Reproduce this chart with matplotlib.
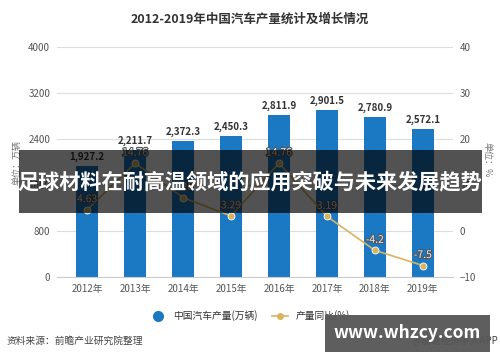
import matplotlib
matplotlib.use("Agg")
import matplotlib.pyplot as plt
import matplotlib.patheffects as pe
from matplotlib.patches import Rectangle
from matplotlib.lines import Line2D

plt.rcParams['font.family'] = ['Noto Sans CJK SC', 'DejaVu Sans']

years = ["2012年", "2013年", "2014年", "2015年", "2016年", "2017年", "2018年", "2019年"]
output = [1927.2, 2211.7, 2372.3, 2450.3, 2811.9, 2901.5, 2780.9, 2572.1]
growth = [4.63, 14.76, 7.26, 3.29, 14.76, 3.19, -4.2, -7.5]
growth_labels = ["4.63", "14.76", "7.26", "3.29", "14.76", "3.19", "-4.2", "-7.5"]
left_ticks = [0, 800, 1600, 2400, 3200, 4000]
right_ticks = [-10, 0, 10, 20, 30, 40]

bar_color = "#1b79c4"
line_color = "#d8b45e"
grid_color = "#dddddd"
tick_color = "#555555"

fig = plt.figure(figsize=(5, 3.62), dpi=100)
ax = fig.add_axes([0.114, 0.2348, 0.792, 0.635])
ax2 = ax.twinx()

x = list(range(len(years)))
ax.bar(x, output, width=0.46, color=bar_color, zorder=2)
for xi, v in zip(x, output):
    ax.text(xi, v + 70, f"{v:,.1f}", ha="center", va="bottom", fontsize=7,
            fontweight="bold", color="#333333", zorder=5)

ax.set_ylim(0, 4000)
ax.set_yticks(left_ticks)
ax.set_xlim(-0.63, 7.63)
ax.set_xticks(x)
ax.set_xticklabels(years)
ax.grid(axis="y", color=grid_color, linewidth=0.8, zorder=0)
ax.tick_params(axis="both", length=0, labelsize=7, colors=tick_color, pad=5)
for s in ax.spines.values():
    s.set_visible(False)
ax.spines["bottom"].set_visible(True)
ax.spines["bottom"].set_color("#cccccc")

ax2.plot(x, growth, color=line_color, linewidth=1.2, marker="o", markersize=5,
         markerfacecolor=line_color, markeredgecolor="white", markeredgewidth=0.6, zorder=3)
for xi, v, lab in zip(x, growth, growth_labels):
    ax2.text(xi, v + 1.2, lab, ha="center", va="bottom", fontsize=7.5, color="#e8f2fb",
             path_effects=[pe.withStroke(linewidth=1.6, foreground="#555555")], zorder=5)
ax2.set_ylim(-10, 40)
ax2.set_yticks(right_ticks)
ax2.tick_params(axis="y", length=0, labelsize=7, colors=tick_color, pad=5)
for s in ax2.spines.values():
    s.set_visible(False)

fig.text(0.5, 0.948, "2012-2019年中国汽车产量统计及增长情况", ha="center", va="center",
         fontsize=9, fontweight="bold", color="#333333")
fig.text(0.034, 0.55, "单位：万辆", rotation=90, ha="center", va="center", fontsize=6.5, color="#777777")
fig.text(0.974, 0.56, "单位：%", rotation=270, ha="center", va="center", fontsize=6.5, color="#777777")

handles = [
    Line2D([], [], linestyle="none", marker="o", markersize=7, color=bar_color),
    Line2D([], [], color=line_color, marker="o", markersize=4, linewidth=1.2),
]
fig.legend(handles, ["中国汽车产量(万辆)", "产量同比(%)"], loc="center", bbox_to_anchor=(0.5, 0.128),
           ncol=2, frameon=False, fontsize=7, handlelength=1.6, columnspacing=1.5,
           labelcolor="#333333")

fig.text(0.014, 0.058, "资料来源：前瞻产业研究院整理", ha="left", va="center", fontsize=7, color="#444444")
fig.text(0.996, 0.058, "@前瞻经济学人APP", ha="right", va="center", fontsize=7, color="#444444")

# overlay banner
fig.patches.append(Rectangle((0.038, 0.412), 0.926, 0.174, transform=fig.transFigure,
                             facecolor="black", alpha=0.68, zorder=10))
fig.text(0.5, 0.499, "足球材料在耐高温领域的应用突破与未来发展趋势", ha="center", va="center",
         fontsize=15.2, fontweight="bold", color="white", zorder=11)

fig.patches.append(Rectangle((0.65, 0.028), 0.33, 0.102, transform=fig.transFigure,
                             facecolor="#555555", alpha=0.95, zorder=10))
fig.text(0.815, 0.079, "www.whzcy.com", ha="center", va="center", fontsize=12.5,
         fontweight="bold", color="white", zorder=11)

fig.savefig("out.png", dpi=100)
